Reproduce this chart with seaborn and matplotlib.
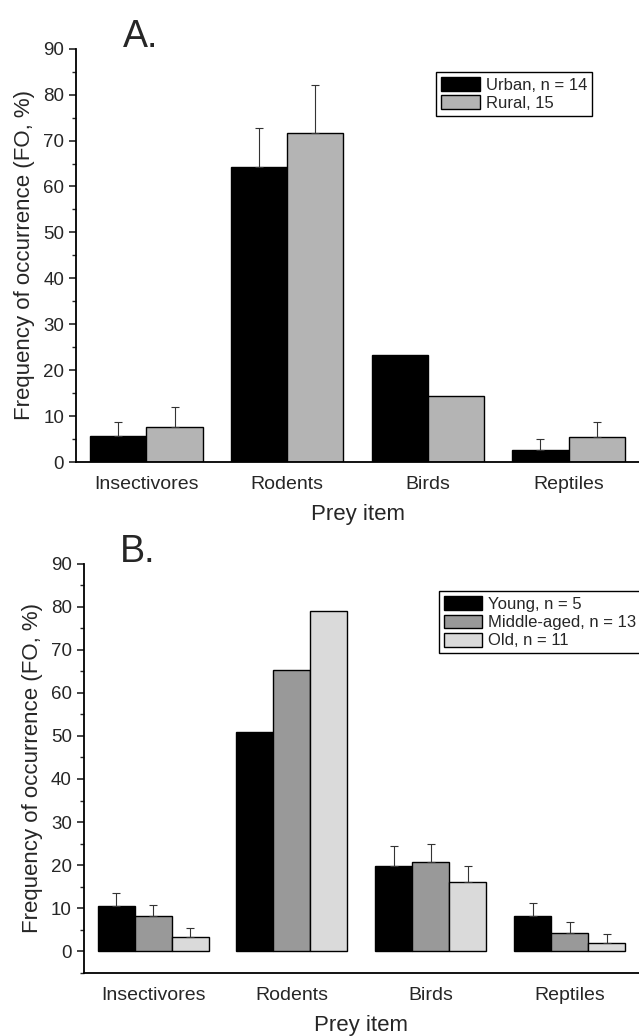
import matplotlib
matplotlib.use("Agg")
import matplotlib.pyplot as plt
import seaborn as sns
import pandas as pd
import numpy as np

# prey categories shared by both panels
prey = ["Insectivores", "Rodents", "Birds", "Reptiles"]

# panel A: urban vs rural (FO %, upper error)
habitat = ["Urban, n = 14", "Rural, 15"]
urban_fo = [5.7, 64.2, 23.3, 2.6]
urban_err = [3.0, 8.6, 0, 2.4]
rural_fo = [7.6, 71.6, 14.3, 5.5]
rural_err = [4.4, 10.4, 0, 3.2]

# panel B: age classes
age = ["Young, n = 5", "Middle-aged, n = 13", "Old, n = 11"]
young_fo = [10.4, 50.9, 19.8, 8.2]
young_err = [3.1, 0, 4.7, 2.9]
middle_fo = [8.2, 65.2, 20.7, 4.3]
middle_err = [2.6, 0, 4.2, 2.6]
old_fo = [3.3, 79.0, 16.1, 2.0]
old_err = [2.2, 0, 3.6, 2.1]

sns.set_style("ticks")
plt.rcParams['font.family'] = ['Liberation Sans', 'DejaVu Sans']
narrow = ['Liberation Sans Narrow', 'Liberation Sans', 'DejaVu Sans']


def make_df(groups, values):
    rows = []
    for g, vals in zip(groups, values):
        for p, v in zip(prey, vals):
            rows.append([p, g, v])
    return pd.DataFrame(rows, columns=['Prey', 'Group', 'FO'])


def draw(ax, df, groups, colors, errs, ylim, letter, letter_x, legend_pos, legsize):
    sns.barplot(data=df, x='Prey', y='FO', hue='Group', hue_order=groups,
                order=prey, palette=colors, errorbar=None, width=0.8,
                edgecolor='black', linewidth=1.0, saturation=1, ax=ax)
    for cont, err in zip(ax.containers, errs):
        xs = [b.get_x() + b.get_width() / 2 for b in cont]
        hs = [b.get_height() for b in cont]
        e = np.array(err, dtype=float)
        mask = e > 0
        ax.errorbar(np.array(xs)[mask], np.array(hs)[mask],
                    yerr=[np.zeros(mask.sum()), e[mask]], fmt='none',
                    ecolor='#333333', elinewidth=0.8, capsize=3, capthick=0.8)
    ax.set_ylim(*ylim)
    ax.set_xlim(-0.5, 3.5)
    ax.set_yticks(range(0, 91, 10))
    ax.set_yticks(range(int(ylim[0]), 91, 5), minor=True)
    for s in ['top', 'right']:
        ax.spines[s].set_visible(False)
    for s in ['left', 'bottom']:
        ax.spines[s].set_linewidth(1.3)
        ax.spines[s].set_color('black')
    ax.tick_params(axis='y', which='major', length=5, width=1.2, labelsize=13.5)
    ax.tick_params(axis='y', which='minor', length=3, width=1.0)
    ax.tick_params(axis='x', length=0, labelsize=14, pad=10)
    for lab in ax.get_xticklabels() + ax.get_yticklabels():
        lab.set_family(narrow)
    ax.set_ylabel('Frequency of occurrence (FO, %)', fontsize=16, labelpad=6)
    ax.set_xlabel('Prey item', fontsize=16, labelpad=8)
    ax.text(letter_x, 1.003, letter, transform=ax.transAxes, fontsize=27,
            va='baseline', ha='left')
    leg = ax.legend(loc='upper left', bbox_to_anchor=legend_pos, frameon=True,
                    fancybox=False, edgecolor='black', framealpha=1,
                    prop={'family': narrow, 'size': legsize}, handlelength=2.3,
                    handleheight=0.9, handletextpad=0.35, borderpad=0.3,
                    labelspacing=0.15, borderaxespad=0)
    leg.get_frame().set_linewidth(1.0)


fig = plt.figure(figsize=(6.39, 10.36), dpi=100)
axA = fig.add_axes([0.119, 0.554, 0.881, 0.399])
axB = fig.add_axes([0.131, 0.061, 0.869, 0.395])

dfA = make_df(habitat, [urban_fo, rural_fo])
draw(axA, dfA, habitat, ['#000000', '#b4b4b4'], [urban_err, rural_err],
     (0, 90), 'A.', 0.083, (0.64, 0.944), 12)

dfB = make_df(age, [young_fo, middle_fo, old_fo])
draw(axB, dfB, age, ['#000000', '#999999', '#dadada'],
     [young_err, middle_err, old_err], (-5, 90), 'B.', 0.065, (0.639, 0.932), 12)

fig.savefig('out.png', dpi=100)
